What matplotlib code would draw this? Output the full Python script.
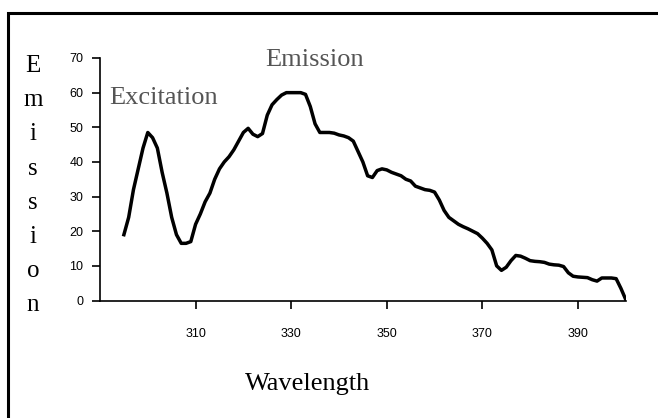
import matplotlib
matplotlib.use("Agg")
import matplotlib.pyplot as plt
from matplotlib.patches import Rectangle

# wavelength (nm) and emission intensity
wavelength = list(range(295, 401))
emission = [
    19, 24, 32, 38, 44, 48.5, 47, 44, 37, 31,
    24, 19, 16.5, 16.5, 17, 22, 25, 28.5, 31, 35,
    38, 40, 41.5, 43.5, 46, 48.5, 49.7, 48, 47.3, 48.2,
    53.5, 56.5, 58, 59.3, 60, 60, 60, 60, 59.5, 56,
    51, 48.5, 48.5, 48.5, 48.3, 47.8, 47.5, 47, 46, 43,
    40, 36, 35.5, 37.5, 38, 37.7, 37, 36.5, 36, 35,
    34.5, 33, 32.5, 32, 31.8, 31.3, 29, 26, 24, 23,
    22, 21.3, 20.7, 20, 19.3, 18, 16.5, 14.6, 10, 8.7,
    9.6, 11.5, 13, 12.8, 12.2, 11.5, 11.3, 11.2, 11, 10.5,
    10.3, 10.2, 9.8, 8, 7, 6.8, 6.7, 6.6, 6, 5.6,
    6.5, 6.5, 6.5, 6.3, 3.5, 0.3,
]
x_ticks = [310, 330, 350, 370, 390]
y_ticks = [0, 10, 20, 30, 40, 50, 60, 70]
y_label = "Emission"

fig = plt.figure(figsize=(6.58, 4.18), dpi=100)
fig.patch.set_facecolor("white")

# frame around the whole chart (cut off at right and bottom)
fig.patches.append(Rectangle((8 / 658, -0.2), 1.2, 1.2 - 13 / 418,
                             transform=fig.transFigure, fill=False,
                             edgecolor="black", linewidth=2.2))

ax = fig.add_axes([100 / 658, 1 - 300.5 / 418, 525.7 / 658, 242.5 / 418])
ax.plot(wavelength, emission, color="black", linewidth=2.5)
ax.set_xlim(290, 400)
ax.set_ylim(0, 70)
ax.set_xticks(x_ticks)
ax.set_yticks(y_ticks)
ax.spines["top"].set_visible(False)
ax.spines["right"].set_visible(False)
for s in ("left", "bottom"):
    ax.spines[s].set_linewidth(1.2)
ax.tick_params(direction="out", length=6, width=1.2, labelsize=9,
               colors="black")
ax.tick_params(axis="x", pad=14)
ax.tick_params(axis="y", pad=6)
for lbl in ax.get_xticklabels() + ax.get_yticklabels():
    lbl.set_family("Liberation Sans")
ax.set_facecolor("none")

serif = "Liberation Serif"
ax.text(0.018, 0.835, "Excitation", transform=ax.transAxes, fontsize=19,
        family=serif, color="#555555", ha="left", va="center")
ax.text(0.314, 0.99, "Emission", transform=ax.transAxes, fontsize=19,
        family=serif, color="#555555", ha="left", va="center")
fig.text(308 / 658, 1 - 384 / 418, "Wavelength", fontsize=19, family=serif,
         color="black", ha="center", va="center")

# vertical stacked axis label
for i, ch in enumerate(y_label):
    fig.text(33 / 658, 1 - (66 + i * 34.2) / 418, ch, fontsize=18,
             family=serif, color="black", ha="center", va="center")

fig.savefig("out.png", dpi=100)
